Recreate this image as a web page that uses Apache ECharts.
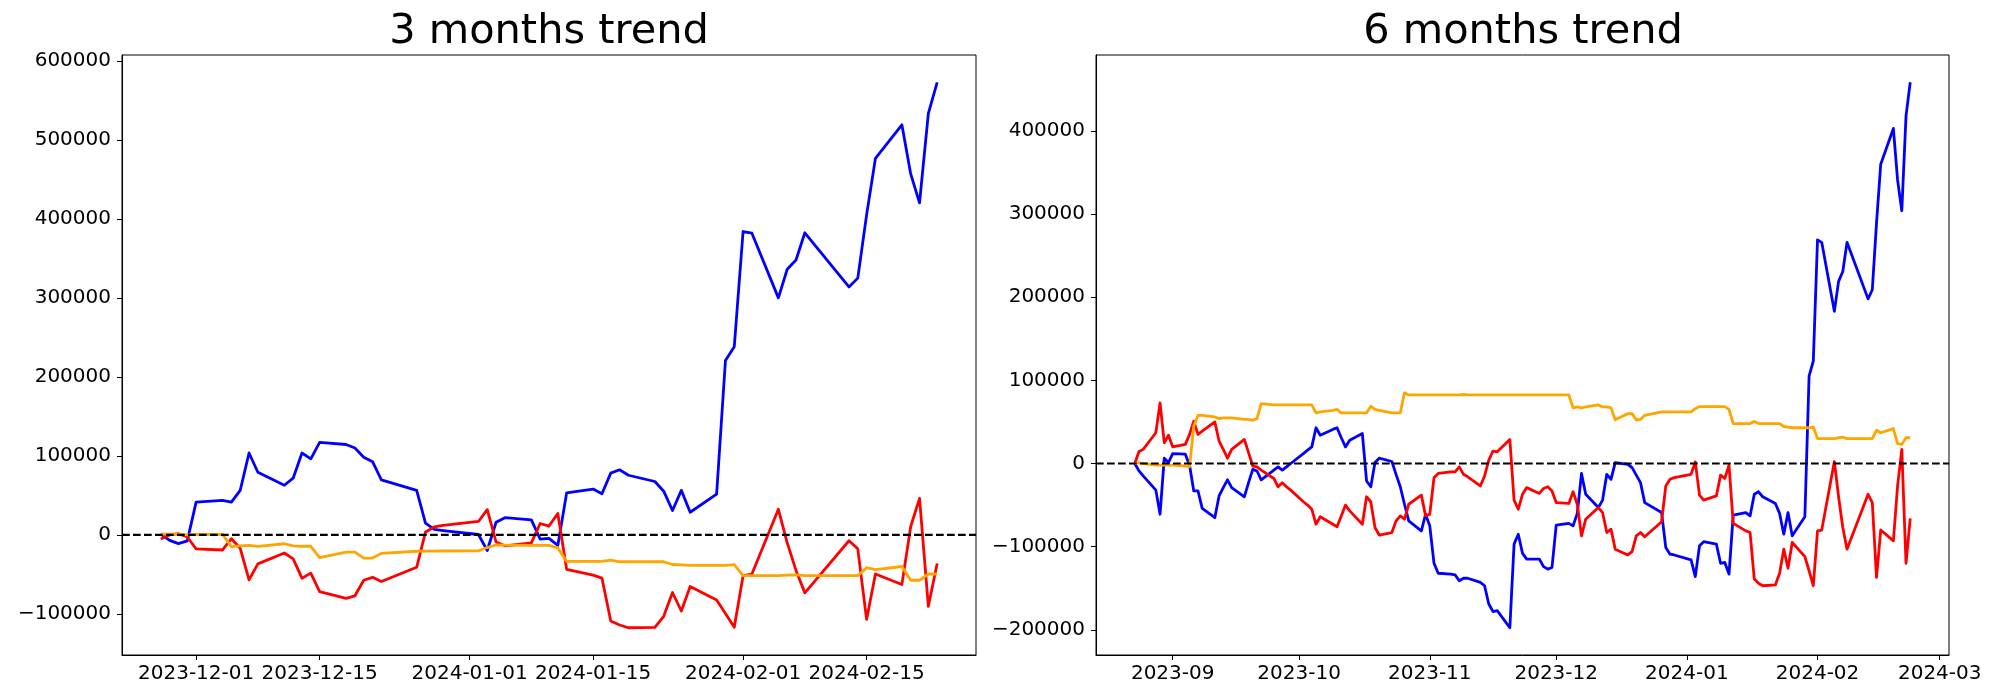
<!DOCTYPE html>
<html><head><meta charset="utf-8">
<script src="https://cdn.jsdelivr.net/npm/echarts@6/dist/echarts.min.js"></script>
<style>html,body{margin:0;padding:0;background:#fff}#c{width:2000px;height:700px}</style>
</head><body><div id="c"></div>
<script>
// ---------- 3 months chart (values in thousands) ----------
const dates3 = ['2023-11-27','2023-11-28','2023-11-29','2023-11-30',
 '2023-12-01','2023-12-04','2023-12-05','2023-12-06','2023-12-07','2023-12-08','2023-12-11','2023-12-12','2023-12-13','2023-12-14','2023-12-15','2023-12-18','2023-12-19','2023-12-20','2023-12-21','2023-12-22','2023-12-26','2023-12-27','2023-12-28','2023-12-29',
 '2024-01-02','2024-01-03','2024-01-04','2024-01-05','2024-01-08','2024-01-09','2024-01-10','2024-01-11','2024-01-12','2024-01-15','2024-01-16','2024-01-17','2024-01-18','2024-01-19','2024-01-22','2024-01-23','2024-01-24','2024-01-25','2024-01-26','2024-01-29','2024-01-30','2024-01-31',
 '2024-02-01','2024-02-02','2024-02-05','2024-02-06','2024-02-07','2024-02-08','2024-02-13','2024-02-14','2024-02-15','2024-02-16','2024-02-19','2024-02-20','2024-02-21','2024-02-22','2024-02-23'];
const blue3 = [1,-7,-11,-7.5,
 41.5,43.6,41.5,56.4,103.7,79.3,62.8,71.8,103.7,96.3,117,114.4,110,98.4,92.6,69.7,56.4,14.9,6.9,5.5,
 0.5,-19.7,16,21.8,19.1,-5.3,-4.3,-13.3,53.2,58,52.1,78.2,82.4,75.5,67.6,55.3,30.9,56.4,28.7,51.6,220.7,238.3,
 384,381.9,300,336.2,347.9,382.4,313.8,325,405,476.6,519.1,456.9,420.2,533.5,572.9];
const red3 = [-5.3,0,1.5,-2.7,
 -17.6,-19.1,-4.8,-17,-56.9,-36.7,-22.9,-30.3,-54.8,-48.4,-71.8,-80.3,-77.1,-57.4,-53.7,-59,-41,3.7,10.1,12,
 17,31.9,-9,-13.8,-10.1,14.4,11.2,27.1,-43.6,-51,-54.8,-109,-114,-117.5,-117,-103,-72.9,-96.3,-65.4,-82.4,-99.5,-117,
 -51.6,-49.5,32.4,-10,-45,-73.4,-7.4,-17.6,-107,-49.5,-62.8,10.6,46.3,-90.4,-36.2];
const orange3 = [1,1,1,0,
 0.5,0.5,-14.9,-13.8,-13.3,-14.4,-11.2,-13.8,-14.4,-14.4,-28.7,-21.8,-21.8,-29.3,-29.3,-23.4,-20.7,-20.5,-20.5,-20.4,
 -20.2,-16,-12.8,-13,-13.3,-13.3,-13.3,-16.5,-33.5,-33.5,-33.5,-32,-34,-34,-34,-34,-37.5,-38,-38.5,-38.5,-38.5,-37.5,
 -51.5,-51.5,-51.5,-51,-50.5,-51.5,-51.5,-51.5,-41.5,-44,-40,-57.4,-57.4,-49.5,-49.5];

// ---------- 6 months chart (values in thousands) ----------
const dates6 = ['2023-08-23','2023-08-24','2023-08-25','2023-08-28','2023-08-29','2023-08-30','2023-08-31',
 '2023-09-01','2023-09-04','2023-09-05','2023-09-06','2023-09-07','2023-09-08','2023-09-11','2023-09-12','2023-09-13','2023-09-14','2023-09-15','2023-09-18','2023-09-19','2023-09-20','2023-09-21','2023-09-22','2023-09-25','2023-09-26','2023-09-27','2023-09-28','2023-09-29',
 '2023-10-02','2023-10-03','2023-10-04','2023-10-05','2023-10-06','2023-10-09','2023-10-10','2023-10-11','2023-10-12','2023-10-13','2023-10-16','2023-10-17','2023-10-18','2023-10-19','2023-10-20','2023-10-23','2023-10-24','2023-10-25','2023-10-26','2023-10-27','2023-10-30','2023-10-31',
 '2023-11-01','2023-11-02','2023-11-03','2023-11-06','2023-11-07','2023-11-08','2023-11-09','2023-11-10','2023-11-13','2023-11-14','2023-11-15','2023-11-16','2023-11-17','2023-11-20','2023-11-21','2023-11-22','2023-11-23','2023-11-24',
 '2023-11-27','2023-11-28','2023-11-29','2023-11-30',
 '2023-12-01','2023-12-04','2023-12-05','2023-12-06','2023-12-07','2023-12-08','2023-12-11','2023-12-12','2023-12-13','2023-12-14','2023-12-15','2023-12-18','2023-12-19','2023-12-20','2023-12-21','2023-12-22','2023-12-26','2023-12-27','2023-12-28','2023-12-29',
 '2024-01-02','2024-01-03','2024-01-04','2024-01-05','2024-01-08','2024-01-09','2024-01-10','2024-01-11','2024-01-12','2024-01-15','2024-01-16','2024-01-17','2024-01-18','2024-01-19','2024-01-22','2024-01-23','2024-01-24','2024-01-25','2024-01-26','2024-01-29','2024-01-30','2024-01-31',
 '2024-02-01','2024-02-02','2024-02-05','2024-02-06','2024-02-07','2024-02-08','2024-02-13','2024-02-14','2024-02-15','2024-02-16','2024-02-19','2024-02-20','2024-02-21','2024-02-22','2024-02-23'];
const blue6 = [0,-8.8,-14.8,-32,-61,6.4,1.2,
 12,11.2,-2,-33,-33,-54,-65,-39,-29,-19.6,-29,-40,-23,-7,-9,-19.6,-8,-4,-8,-4,0,
 12,16,20,43,34,41,43,31,20,28,36,-21,-28,1.2,6.4,2.4,-13,-28,-49,-69,-81,-61,
 -75,-120,-132,-133,-134,-141,-138,-138,-143,-147,-169,-178,-177,-197.5,-97,-85,-108,-115,
 -115,-124,-127,-125,
 -74,-72,-75,-60,-12,-37,-53,-44,-13,-19,1,-1,-5,-14,-23,-47,-59,-101,-109,-110,
 -116,-136,-99,-94,-97,-120,-119,-133,-62,-59,-63,-37,-34,-40,-48,-60,-85,-59,-87,-64,105,123,
 269,266,183,219,231,266,198,209,289,360,403,341,304,418,458.5];
const red6 = [0,14.4,17,37,73,25,34,
 20,23,35,51,35,39,50,27,17,6.4,17,29,13,-3,-4,-8,-18,-28,-23,-28,-32,
 -46,-50,-55,-73,-64,-73,-76,-63,-50,-57,-73,-40,-46,-77,-86,-83,-69,-63,-67,-49,-38,-63,
 -61,-17,-12,-10,-10,-4,-13,-16,-27,-15,4,15,14,29,-44,-55,-37,-29,
 -36,-30,-28,-33,
 -47,-48,-34,-49,-87,-67,-53,-59,-83,-79,-103,-110,-106,-87,-83,-88,-70,-27,-19,-17,
 -13,2,-38,-44,-39,-14,-18,-2,-72,-81,-83,-139,-144,-147,-146,-132,-103,-126,-95,-112,-129,-147,
 -81,-80,2.4,-40,-77,-103,-37,-47,-137,-80,-93,-27,17,-120,-66];
const orange6 = [0,1,0,-2,-2,-2,-2,
 -2,-3,-4,45,58,58,56,54,55,55,55,53,53,52,54,72,70.5,70.5,70.5,70.5,70.5,
 70.5,70.5,70.5,61,62,64,65,61,61,61,61,61,69,65,64,61,61,61,85,82.5,82.5,82.5,
 82.5,82.5,82.5,82.5,82.5,82.5,83,82.5,82.5,82.5,82.5,82.5,82.5,82.5,82.5,82.5,82.5,82.5,
 82.5,82.5,82.5,82.5,
 82.5,82.5,67,68,67,68,70.5,68,68,67,52.5,60,60,52.5,53,58,62,62,62,62,
 62,66,68.5,68.5,68.5,68.5,68.5,65,48,48,48,50.5,48,48,48,48,44.5,43.7,43,43,43,44,
 30,30,30,31,31.6,30,30,30,40,37,42,24,23,31,31];

// ---------- ticks & titles ----------
const xTicks3 = ['2023-12-01','2023-12-15','2024-01-01','2024-01-15','2024-02-01','2024-02-15'];
const xTicks6 = ['2023-09-01','2023-10-01','2023-11-01','2023-12-01','2024-01-01','2024-02-01','2024-03-01'];
const yTicks3 = [-100000,0,100000,200000,300000,400000,500000,600000];
const yTicks6 = [-200000,-100000,0,100000,200000,300000,400000];
const titles = ['3 months trend','6 months trend'];
const colors = ['#0000ff','#ff0000','#ffa500'];

function ts(s){const p=s.split('-').map(Number);return new Date(p[0],p[1]-1,p[2]).getTime();}
function pairs(ds,vs){return ds.map((d,i)=>[ts(d),vs[i]*1000]);}
function pad(n){return n<10?'0'+n:''+n;}
const FONT='DejaVu Sans';

function limits(arrs){let mn=Infinity,mx=-Infinity;arrs.forEach(a=>a.forEach(v=>{mn=Math.min(mn,v*1000);mx=Math.max(mx,v*1000);}));const m=(mx-mn)*0.05;return [mn-m,mx+m];}
function xlim(ds){const a=ts(ds[0]),b=ts(ds[ds.length-1]);const m=(b-a)*0.05;return [a-m,b+m];}

const yl3=limits([blue3,red3,orange3]), yl6=limits([blue6,red6,orange6]);
const xl3=xlim(dates3), xl6=xlim(dates6);

function xAxisCfg(idx,lim,ticks,fmt){
  const tv=ticks.map(ts);
  return {type:'value',gridIndex:idx,min:lim[0],max:lim[1],scale:true,
    axisLine:{show:true,onZero:false,lineStyle:{color:'#000',width:1}},
    axisTick:{show:true,length:5,customValues:tv,lineStyle:{color:'#000',width:1}},
    axisLabel:{show:true,customValues:tv,fontSize:20,fontFamily:FONT,color:'#000',margin:9,hideOverlap:false,showMinLabel:true,showMaxLabel:true,
      formatter:v=>{const d=new Date(v);return fmt==='d'?d.getFullYear()+'-'+pad(d.getMonth()+1)+'-'+pad(d.getDate()):d.getFullYear()+'-'+pad(d.getMonth()+1);}},
    splitLine:{show:false}};
}
function yAxisCfg(idx,lim,ticks){
  return {type:'value',gridIndex:idx,min:lim[0],max:lim[1],
    axisLine:{show:true,onZero:false,lineStyle:{color:'#000',width:1}},
    axisTick:{show:true,length:5,customValues:ticks,lineStyle:{color:'#000',width:1}},
    axisLabel:{show:true,customValues:ticks,fontSize:20,fontFamily:FONT,color:'#000',margin:11,
      formatter:v=>(v<0?'\u2212'+Math.abs(v):''+v)},
    splitLine:{show:false}};
}
function lineSeries(idx,ds,vs,c,z){
  return {type:'line',xAxisIndex:idx,yAxisIndex:idx,data:pairs(ds,vs),showSymbol:false,symbol:'none',
    lineStyle:{color:c,width:2.8,join:'round',cap:'butt'},itemStyle:{color:c},z:z,animation:false,silent:true};
}
function zeroSeries(idx,lim){
  return {type:'line',xAxisIndex:idx,yAxisIndex:idx,data:[[lim[0],0],[lim[1],0]],showSymbol:false,symbol:'none',
    lineStyle:{color:'#000',width:2.1,type:[7.7,3.3]},z:10,animation:false,silent:true};
}

const chart = echarts.init(document.getElementById('c'),null,{renderer:'canvas'});
chart.setOption({
  animation:false,
  backgroundColor:'#fff',
  title:[
    {text:titles[0],left:549,top:11,textAlign:'center',padding:0,textStyle:{fontSize:41.5,fontWeight:'normal',fontFamily:FONT,color:'#000'}},
    {text:titles[1],left:1523,top:11,textAlign:'center',padding:0,textStyle:{fontSize:41.5,fontWeight:'normal',fontFamily:FONT,color:'#000'}}
  ],
  grid:[
    {left:122,top:55,width:854,height:600,show:true,borderColor:'#000',borderWidth:1,backgroundColor:'transparent'},
    {left:1096,top:55,width:853,height:600,show:true,borderColor:'#000',borderWidth:1,backgroundColor:'transparent'}
  ],
  xAxis:[xAxisCfg(0,xl3,xTicks3,'d'),xAxisCfg(1,xl6,xTicks6,'m')],
  yAxis:[yAxisCfg(0,yl3,yTicks3),yAxisCfg(1,yl6,yTicks6)],
  series:[
    lineSeries(0,dates3,blue3,colors[0],2),
    lineSeries(0,dates3,red3,colors[1],3),
    lineSeries(0,dates3,orange3,colors[2],4),
    zeroSeries(0,xl3),
    lineSeries(1,dates6,blue6,colors[0],2),
    lineSeries(1,dates6,red6,colors[1],3),
    lineSeries(1,dates6,orange6,colors[2],4),
    zeroSeries(1,xl6)
  ]
});
</script>
</body></html>
